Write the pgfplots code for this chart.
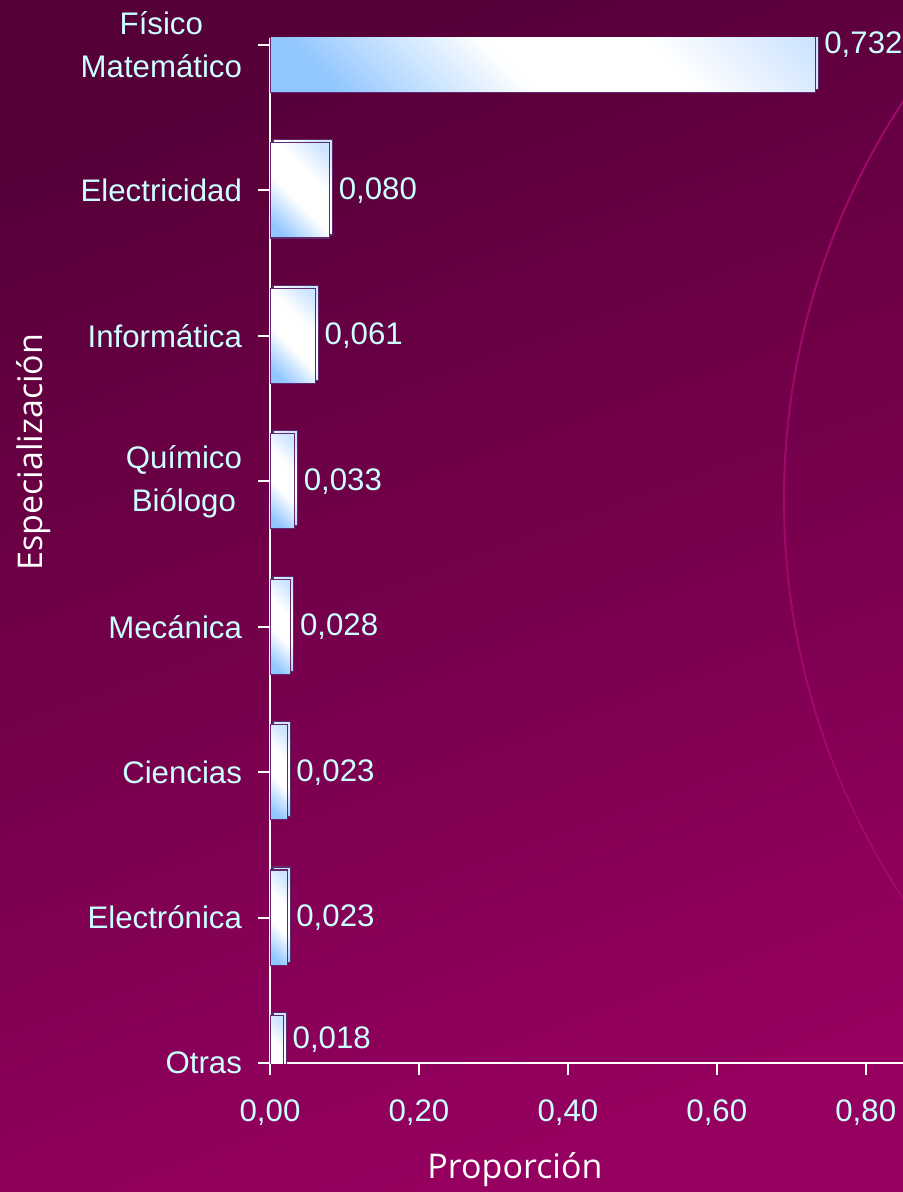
\documentclass[border=0pt]{standalone}
\usepackage{pgfplots}
\pgfplotsset{compat=1.18}
\usepackage{pgfplotstable}
\usepackage{fontspec}
\setmainfont{Liberation Sans}
\newfontfamily\titlefont{Open Sans}

\definecolor{bgtop}{RGB}{86,0,56}
\definecolor{bgbot}{RGB}{150,0,96}
\definecolor{arcc}{RGB}{160,8,108}
\definecolor{lbl}{RGB}{204,255,255}
\definecolor{barblue}{RGB}{140,192,242}
\definecolor{barlight}{RGB}{145,198,255}
\definecolor{barend}{RGB}{205,228,255}
\definecolor{baredge}{RGB}{96,40,110}
\pgfdeclarehorizontalshading{barshade}{100bp}{color(0bp)=(barlight); color(22bp)=(barlight); color(44bp)=(white); color(62bp)=(white); color(80bp)=(barend); color(100bp)=(barend)}

% proportion per specialisation, bottom (Otras) to top
\pgfplotstableread{
pos val   lab
0   0.018 {0,018}
1   0.023 {0,023}
2   0.023 {0,023}
3   0.028 {0,028}
4   0.033 {0,033}
5   0.061 {0,061}
6   0.080 {0,080}
7   0.732 {0,732}
}\spec

\begin{document}
\begin{tikzpicture}
\useasboundingbox (0,0) rectangle (451.5pt,-596pt);
\shade[top color=bgtop, bottom color=bgbot, shading angle=20] (0,0) rectangle (451.5pt,-596pt);
\draw[arcc, line width=1pt] (755pt,-250pt) circle (363pt);
\begin{axis}[at={(135pt,-531.5pt)}, anchor=south west,
  scale only axis, width=316.5pt, height=512.5pt,
  xmin=0, xmax=0.85, ymin=0, ymax=7.048,
  axis x line*=bottom, axis y line*=left,
  axis line style={white, line width=1pt},
  tick align=outside, major tick length=6pt,
  tick style={white, line width=1pt},
  xtick={0,0.2,0.4,0.6,0.8},
  xticklabels={{0,00},{0,20},{0,40},{0,60},{0,80}},
  ytick={0,...,7},
  yticklabels={Otras, Electrónica, Ciencias, Mecánica, {Químico\\Biólogo}, Informática, Electricidad, {Físico\\Matemático}},
  ticklabel style={text=lbl, font=\fontsize{15.6}{21.5}\selectfont},
  yticklabel style={align=center, xshift=-4.5pt},
  xticklabel style={yshift=-9pt},
  xlabel={Proporción}, ylabel={Especialización},
  label style={text=white, font=\titlefont\fontsize{17}{20}\selectfont},
  xlabel style={at={(rel axis cs:0.387,-0.104)}, anchor=center},
  ylabel style={at={(rel axis cs:-0.374,0.596)}, anchor=center},
]
% one plot per bar so that every bar gets its own shading
\pgfplotsinvokeforeach{0,...,7}{
\addplot[xbar, bar width=0.654, bar shift=0pt, draw=baredge, line width=0.6pt,
  preaction={fill=barblue, transform canvas={xshift=1.5pt, yshift=1.5pt}},
  shade, shading=barshade, shading angle=45,
  restrict expr to domain={\coordindex}{#1:#1},
  nodes near coords, point meta=explicit symbolic,
  visualization depends on={rawy \as \ypos},
  nodes near coords style={text=lbl, font=\fontsize{15.6}{18}\selectfont, anchor=west,
    xshift=1pt, yshift={ifthenelse(\ypos<0.5,11.5,0)}}]
  table[x=val, y=pos, meta=lab] {\spec};
}
\end{axis}
\end{tikzpicture}
\end{document}
